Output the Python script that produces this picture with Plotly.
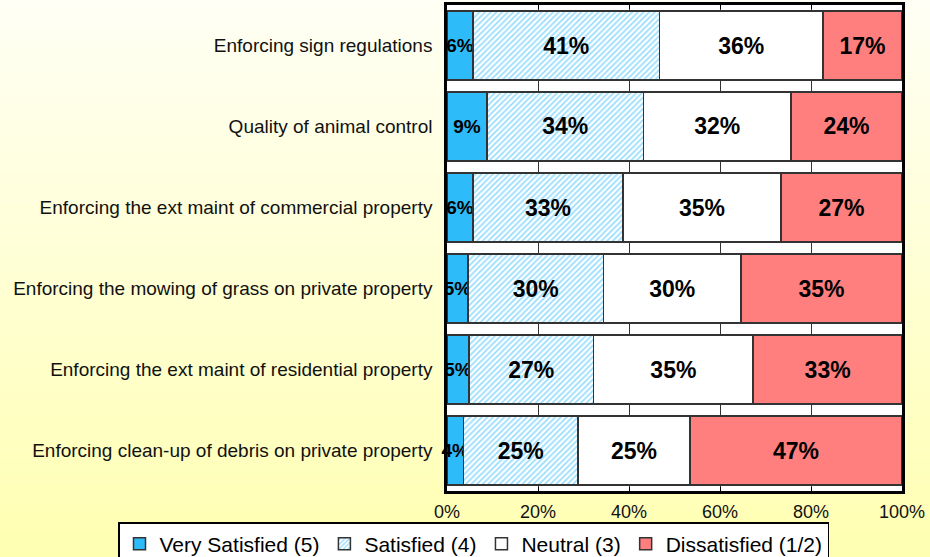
import zlib, struct, base64
import plotly.graph_objects as go

categories = [
    "Enforcing sign regulations",
    "Quality of animal control",
    "Enforcing the ext maint of commercial property",
    "Enforcing the mowing of grass on private property",
    "Enforcing the ext maint of residential property",
    "Enforcing clean-up of debris on private property",
]
very_satisfied = [5.7, 8.8, 5.7, 4.6, 4.8, 3.6]
satisfied = [41.0, 34.4, 33.0, 29.8, 27.4, 25.2]
neutral = [35.9, 32.4, 34.7, 30.2, 35.1, 24.6]
dissatisfied = [17.4, 24.4, 26.6, 35.4, 32.7, 46.6]
series_names = ["Very Satisfied (5)", "Satisfied (4)", "Neutral (3)", "Dissatisfied (1/2)"]
x_ticks = [0, 20, 40, 60, 80, 100]
x_tick_labels = [f"{v}%" for v in x_ticks]

FONT = "Arial, Liberation Sans, sans-serif"


def gradient_png(top, bottom, h=256):
    rows = []
    for i in range(h):
        t = i / (h - 1)
        px = bytes(int(round(a + (b - a) * t)) for a, b in zip(top, bottom))
        rows.append(b"\x00" + px)
    raw = b"".join(rows)

    def chunk(tag, data):
        c = struct.pack(">I", len(data)) + tag + data
        return c + struct.pack(">I", zlib.crc32(tag + data) & 0xFFFFFFFF)

    png = (b"\x89PNG\r\n\x1a\n"
           + chunk(b"IHDR", struct.pack(">IIBBBBB", 1, h, 8, 2, 0, 0, 0))
           + chunk(b"IDAT", zlib.compress(raw))
           + chunk(b"IEND", b""))
    return "data:image/png;base64," + base64.b64encode(png).decode()


def sizes(vals):
    return [19 if v < 10 else 23 for v in vals]


fig = go.Figure()
common = dict(orientation="h", textposition="inside", insidetextanchor="middle",
              constraintext="none", textangle=0, texttemplate="%{x:.0f}%",
              cliponaxis=False, hoverinfo="skip")

fig.add_trace(go.Bar(
    y=categories, x=very_satisfied, name=series_names[0],
    marker=dict(color="#2EBBFA", line=dict(color="#333333", width=1.5)),
    textfont=dict(family=FONT, size=sizes(very_satisfied), color="black", weight="bold"),
    **common))
fig.add_trace(go.Bar(
    y=categories, x=satisfied, name=series_names[1],
    marker=dict(color="white", line=dict(color="#333333", width=1.5),
                pattern=dict(shape="/", fgcolor="#33BBFF", bgcolor="white",
                             size=4, solidity=0.45)),
    textfont=dict(family=FONT, size=sizes(satisfied), color="black", weight="bold"),
    **common))
fig.add_trace(go.Bar(
    y=categories, x=neutral, name=series_names[2],
    marker=dict(color="white", line=dict(color="#333333", width=1.5)),
    textfont=dict(family=FONT, size=sizes(neutral), color="black", weight="bold"),
    **common))
fig.add_trace(go.Bar(
    y=categories, x=dissatisfied, name=series_names[3],
    marker=dict(color="#FF7F7F", line=dict(color="#333333", width=1.5)),
    textfont=dict(family=FONT, size=sizes(dissatisfied), color="black", weight="bold"),
    **common))

L, R, T, B = 447, 28, 5, 66
W, H = 930, 557
pw, ph = W - L - R, H - T - B

fig.update_layout(
    width=W, height=H,
    margin=dict(l=L, r=R, t=T, b=B, pad=0, autoexpand=False),
    barmode="stack", bargap=0.15,
    paper_bgcolor="#FFFFC0", plot_bgcolor="white",
    font=dict(family=FONT, color="black"),
    showlegend=True,
    legend=dict(orientation="h", xref="paper", yref="paper",
                x=(118 - L) / pw, y=(H - B - 522) / ph,
                xanchor="left", yanchor="top",
                bgcolor="white", bordercolor="black", borderwidth=1.5,
                font=dict(family=FONT, size=21, color="black"),
                itemwidth=30, tracegroupgap=0, traceorder="normal"),
    images=[dict(source=gradient_png((255, 255, 245), (255, 255, 178)),
                 xref="paper", yref="paper", x=-L / pw, y=1 + T / ph,
                 sizex=W / pw, sizey=H / ph, sizing="stretch",
                 xanchor="left", yanchor="top", layer="below")],
    shapes=[dict(type="rect", xref="paper", yref="paper", x0=0, x1=1, y0=0, y1=1,
                 fillcolor="white", line=dict(width=0), layer="below")],
)

fig.update_xaxes(range=[0, 100], tickmode="array", tickvals=x_ticks, ticktext=x_tick_labels,
                 showgrid=True, gridcolor="#333333", gridwidth=1,
                 showline=True, linecolor="black", linewidth=2.5, mirror="ticks",
                 ticks="inside", ticklen=4, tickcolor="black",
                 zeroline=False, fixedrange=True, automargin=False,
                 tickfont=dict(family=FONT, size=18, color="#111111"),
                 ticklabelstandoff=3)
fig.update_yaxes(autorange="reversed", showgrid=False,
                 showline=True, linecolor="black", linewidth=2.5, mirror=True,
                 ticks="", ticklabelstandoff=8, fixedrange=True, automargin=False,
                 tickfont=dict(family=FONT, size=19, color="#111111"))

fig.write_html("out.html", config={"displayModeBar": False},
               post_script="document.body.style.margin='0';")
